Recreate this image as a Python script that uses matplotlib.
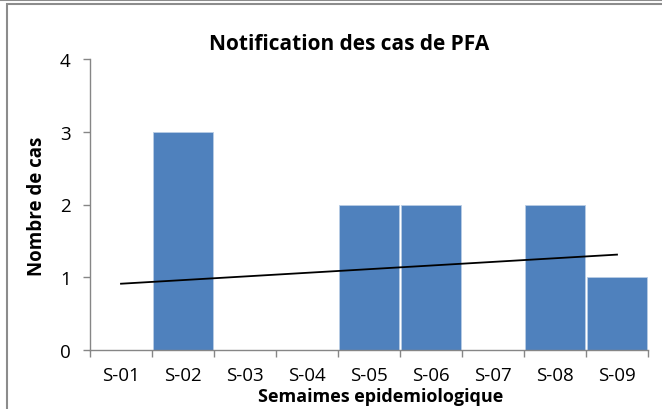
import matplotlib
matplotlib.use("Agg")
import matplotlib.pyplot as plt
import numpy as np
from matplotlib.patches import Rectangle
from matplotlib.lines import Line2D

# --- data ---
semaines = ["S-01", "S-02", "S-03", "S-04", "S-05", "S-06", "S-07", "S-08", "S-09"]
cas = [0, 3, 0, 0, 2, 2, 0, 2, 1]
y_ticks = [0, 1, 2, 3, 4]

plt.rcParams['font.family'] = ['Open Sans', 'DejaVu Sans']
axis_grey = "#868686"

fig = plt.figure(figsize=(6.62, 4.10), dpi=100)
W, H = 662, 410
ax = fig.add_axes([90 / W, (H - 351) / H, (648 - 90) / W, (351 - 60) / H])

x = np.arange(1, len(semaines) + 1)
ax.bar(x, cas, width=0.97, color="#4F81BD", edgecolor="#B9CDE5", linewidth=0.6, zorder=2)

# linear trend line (Excel style)
coef = np.polyfit(x, cas, 1)
ax.plot(x, np.polyval(coef, x), color="black", linewidth=1.3, zorder=3)

ax.set_xlim(0.5, len(semaines) + 0.5)
ax.set_ylim(0, 4)
ax.set_yticks(y_ticks)
ax.set_xticks(x)
ax.set_xticklabels(semaines)
ax.set_xticks(np.arange(0.5, len(semaines) + 1, 1), minor=True)
ax.tick_params(axis="x", which="major", length=0, pad=11.5, labelsize=13.5)
ax.tick_params(axis="x", which="minor", length=5, color=axis_grey, width=1)
ax.tick_params(axis="y", length=5, color=axis_grey, width=1, labelsize=13.5, pad=9)

for side in ["top", "right"]:
    ax.spines[side].set_visible(False)
for side in ["left", "bottom"]:
    ax.spines[side].set_color(axis_grey)
    ax.spines[side].set_linewidth(1)

# titles placed like the Excel chart
fig.text(349 / W, 1 - 45 / H, "Notification des cas de PFA", fontsize=15, fontweight="bold",
         ha="center", va="center")
fig.text(381 / W, 1 - 397 / H, "Semaimes epidemiologique", fontsize=13, fontweight="bold",
         ha="center", va="center")
fig.text(37 / W, 1 - 206 / H, "Nombre de cas", fontsize=13.5, fontweight="bold",
         ha="center", va="center", rotation=90)

# chart area border
fig.patches.append(Rectangle((7 / W, -0.05), 1.1, (H - 5) / H + 0.05, transform=fig.transFigure,
                             fill=False, edgecolor="#8C8C8C", linewidth=1.5))
fig.lines.append(Line2D([0, 1], [(H - 1) / H, (H - 1) / H], transform=fig.transFigure,
                        color="#8C8C8C", linewidth=1.5))

fig.savefig("out.png", dpi=100)
